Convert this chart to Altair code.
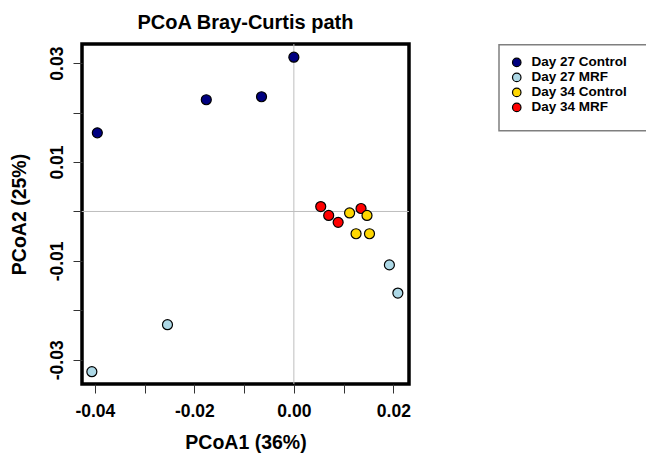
import altair as alt
import pandas as pd

# PCoA coordinates per sample (listed in plotting order)
groups = [
    "Day 27 Control", "Day 27 Control", "Day 27 Control", "Day 27 Control",
    "Day 27 MRF", "Day 27 MRF", "Day 27 MRF", "Day 27 MRF",
    "Day 34 MRF", "Day 34 MRF", "Day 34 MRF", "Day 34 Control",
    "Day 34 MRF", "Day 34 Control", "Day 34 Control", "Day 34 Control",
]
pcoa1 = [
    -0.0395, -0.0176, -0.0065, 0.0000,
    -0.0406, -0.0254, 0.0192, 0.0209,
    0.0054, 0.0070, 0.0089, 0.0112,
    0.0135, 0.0147, 0.0125, 0.0152,
]
pcoa2 = [
    0.0159, 0.0226, 0.0232, 0.0312,
    -0.0324, -0.0229, -0.0108, -0.0165,
    0.0010, -0.0008, -0.0022, -0.0003,
    0.0006, -0.0008, -0.0045, -0.0045,
]

legend_order = ["Day 27 Control", "Day 27 MRF", "Day 34 Control", "Day 34 MRF"]
legend_colors = ["#000080", "#ADD8E6", "#FFD700", "#FF0000"]

x_ticks = [-0.04, -0.03, -0.02, -0.01, 0.0, 0.01, 0.02]
y_ticks = [-0.03, -0.02, -0.01, 0.0, 0.01, 0.02, 0.03]
x_domain = [-0.04258, 0.02314]
y_domain = [-0.03489, 0.03387]

points_df = pd.DataFrame({"group": groups, "PCoA1": pcoa1, "PCoA2": pcoa2})
zero_df = pd.DataFrame({"v": [0.0]})

FONT = "Liberation Sans"
# blank glyph that is not stripped as whitespace, used to pad the legend box
BLANK = "\u2800"
fmt = "replace(format(datum.value, '.2f'), '−', '-')"

x_scale = alt.Scale(domain=x_domain, nice=False, zero=False)
y_scale = alt.Scale(domain=y_domain, nice=False, zero=False)

x_axis = alt.Axis(
    title="PCoA1 (36%)",
    values=x_ticks,
    labelExpr=f"abs(round(datum.value * 100)) % 2 == 0 ? {fmt} : ''",
    labelFlush=False,
    labelOverlap=False,
    labelPadding=9,
    titleY=64,
    titleBaseline="alphabetic",
)
y_axis = alt.Axis(
    title="PCoA2 (25%)",
    values=y_ticks,
    labelExpr=f"abs(round(datum.value * 100)) % 2 == 1 ? {fmt} : ''",
    labelAngle=270,
    labelAlign="center",
    labelBaseline="alphabetic",
    labelFlush=False,
    labelOverlap=False,
    labelPadding=11,
    titleX=-57,
    titleBaseline="alphabetic",
)

vline = alt.Chart(zero_df).mark_rule(color="#BEBEBE", strokeWidth=1).encode(
    x=alt.X("v:Q", scale=x_scale, axis=x_axis)
)
hline = alt.Chart(zero_df).mark_rule(color="#BEBEBE", strokeWidth=1).encode(
    y=alt.Y("v:Q", scale=y_scale, axis=y_axis)
)

points = alt.Chart(points_df).mark_circle(
    size=100, stroke="black", strokeWidth=1.2, opacity=1
).encode(
    x=alt.X("PCoA1:Q", scale=x_scale, axis=x_axis),
    y=alt.Y("PCoA2:Q", scale=y_scale, axis=y_axis),
    color=alt.Color(
        "group:N",
        scale=alt.Scale(domain=legend_order, range=legend_colors),
        sort=legend_order,
        legend=alt.Legend(
            title=BLANK,
            titleOrient="bottom",
            titleFontSize=5,
            titlePadding=0.5,
            orient="none",
            legendX=417,
            legendY=0.7,
            padding=11,
            strokeColor="#7F7F7F",
            symbolType="circle",
            symbolSize=72,
            symbolStrokeColor="black",
            symbolStrokeWidth=1.2,
            labelExpr=f"datum.label + (indexof(datum.label, 'Control') >= 0 ? '{BLANK}' : '')",
            labelFontSize=13.5,
            labelFont=FONT,
            labelFontWeight="bold",
            labelColor="black",
            labelLimit=400,
            labelOffset=8,
            rowPadding=0,
        ),
    ),
)

chart = (
    alt.layer(vline, hline, points)
    .properties(
        width=327,
        height=340,
        title=alt.TitleParams(
            "PCoA Bray-Curtis path",
            fontSize=20,
            fontWeight="bold",
            font=FONT,
            color="black",
            anchor="middle",
            frame="group",
            baseline="alphabetic",
            offset=-5,
        ),
        autosize=alt.AutoSizeParams(type="none"),
        padding={"left": 82, "top": 44, "right": 237, "bottom": 70},
    )
    .configure(font=FONT, background="white")
    .configure_view(stroke="black", strokeWidth=3.5)
    .configure_axis(
        domain=False,
        grid=False,
        ticks=True,
        tickSize=9,
        tickColor="#333333",
        tickWidth=1,
        labelFont=FONT,
        labelFontSize=17.5,
        labelFontWeight="bold",
        labelColor="black",
        titleFont=FONT,
        titleFontSize=19.5,
        titleFontWeight="bold",
        titleColor="black",
    )
    .configure_legend(strokeWidth=1.5)
)

chart.save("out.html", embed_options={"renderer": "svg", "actions": False})
